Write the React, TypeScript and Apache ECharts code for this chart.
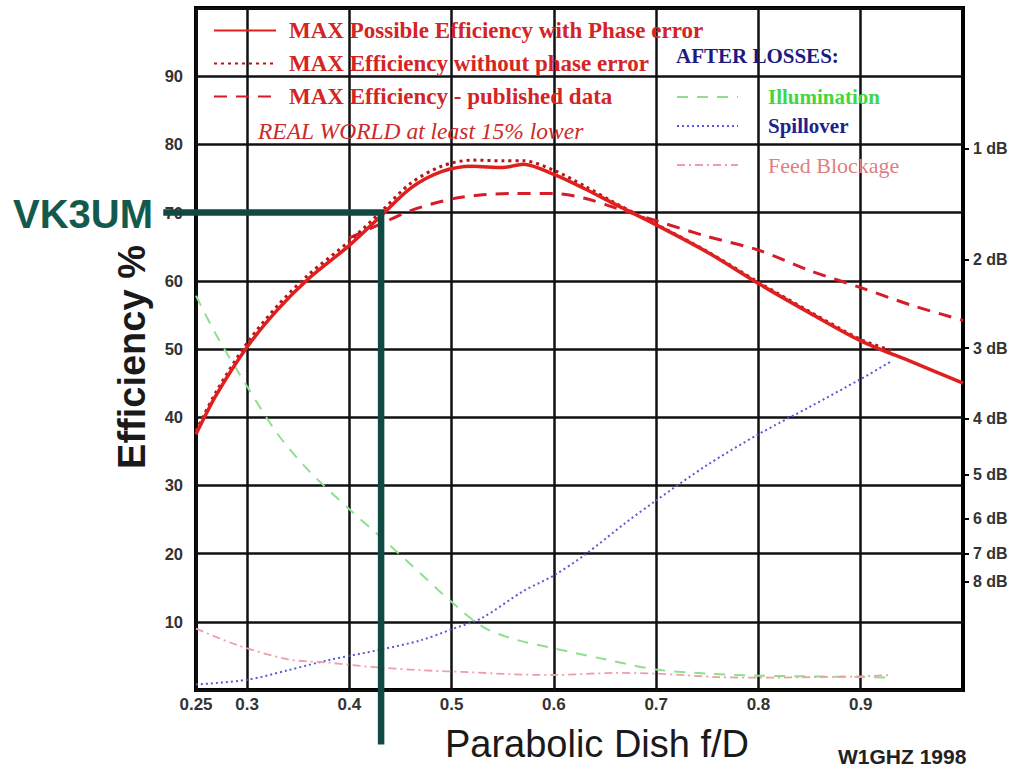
import React, { useEffect, useRef } from "react";
import * as echarts from "echarts";

// f/D values and efficiencies (%)
const fdPhase = [0.25, 0.27, 0.3, 0.33, 0.36, 0.4, 0.43, 0.46, 0.49, 0.52, 0.55, 0.57, 0.6, 0.63, 0.66, 0.7, 0.75, 0.8, 0.85, 0.9, 0.95, 1.0];
const effPhase = [37.5, 43.3, 50.3, 55.8, 60.3, 65.2, 69.4, 73.6, 76.0, 76.8, 76.6, 77.1, 75.6, 73.5, 71.2, 68.2, 64.2, 59.6, 55.3, 51.2, 48.1, 45.0];

const fdNoPhase = [0.25, 0.27, 0.3, 0.33, 0.36, 0.4, 0.43, 0.46, 0.49, 0.52, 0.55, 0.57, 0.6, 0.63, 0.66, 0.7, 0.75, 0.8, 0.85, 0.9, 0.93];
const effNoPhase = [38.0, 43.8, 50.9, 56.4, 60.9, 65.8, 70.0, 74.3, 76.8, 77.7, 77.6, 77.6, 76.2, 73.9, 71.4, 68.3, 64.3, 59.8, 55.5, 51.4, 49.8];

const fdPublished = [0.4, 0.43, 0.46, 0.5, 0.53, 0.56, 0.6, 0.63, 0.66, 0.7, 0.75, 0.8, 0.85, 0.9, 0.95, 1.0];
const effPublished = [66.3, 68.3, 70.3, 72.0, 72.6, 72.8, 72.8, 72.1, 70.7, 68.8, 66.5, 64.5, 61.5, 59.0, 56.4, 54.2];

const fdIllum = [0.25, 0.27, 0.3, 0.33, 0.36, 0.4, 0.43, 0.46, 0.5, 0.53, 0.56, 0.6, 0.65, 0.7, 0.75, 0.8, 0.85, 0.9, 0.93];
const effIllum = [57.8, 52.0, 44.5, 37.5, 32.2, 26.5, 22.5, 18.4, 12.9, 9.3, 7.5, 6.1, 4.5, 3.0, 2.4, 2.1, 2.0, 1.9, 1.8];

const fdSpill = [0.25, 0.3, 0.34, 0.38, 0.43, 0.47, 0.5, 0.53, 0.57, 0.6, 0.63, 0.67, 0.7, 0.75, 0.8, 0.85, 0.9, 0.93];
const effSpill = [0.8, 1.5, 2.9, 4.4, 5.9, 7.3, 8.9, 10.6, 14.5, 16.8, 19.8, 24.5, 27.8, 33.0, 37.5, 41.5, 45.6, 48.2];

const fdBlock = [0.25, 0.29, 0.34, 0.38, 0.42, 0.47, 0.52, 0.56, 0.6, 0.66, 0.7, 0.76, 0.8, 0.86, 0.9, 0.93];
const effBlock = [9.0, 6.6, 4.5, 4.0, 3.4, 2.9, 2.6, 2.3, 2.2, 2.5, 2.4, 1.9, 1.8, 1.9, 2.0, 2.2];

// VK3UM marker: f/D 0.43 -> 70 %
const markFd = [0.218, 0.431, 0.431];
const markEff = [70, 70, -8];

const xTickValues = [0.25, 0.3, 0.4, 0.5, 0.6, 0.7, 0.8, 0.9];
const dbTicks = [1, 2, 3, 4, 5, 6, 7, 8];

const names = [
  "MAX Possible Efficiency with Phase error",
  "MAX Efficiency without phase error",
  "MAX Efficiency - published data",
  "Illumination",
  "Spillover",
  "Feed Blockage",
];

const pairs = (xs: number[], ys: number[]) => xs.map((x, i) => [x, ys[i]]);

export default function App() {
  const ref = useRef<HTMLDivElement>(null);
  useEffect(() => {
    if (!ref.current) return;
    const chart = echarts.init(ref.current, null, { renderer: "svg" });
    const serif = "'Liberation Serif', 'Times New Roman', serif";
    const sans = "'Liberation Sans', Arial, sans-serif";
    const dbPct = dbTicks.map((d) => 100 * Math.pow(10, -d / 10));
    const red = "#d42424";
    const lineBase = { type: "line", symbol: "none", smooth: 0.3, z: 3 };
    chart.setOption({
      animation: false,
      backgroundColor: "#ffffff",
      grid: {
        left: 196, right: 53, top: 8, bottom: 77,
        show: true, borderColor: "#000", borderWidth: 4, backgroundColor: "transparent",
      },
      title: [
        { text: "AFTER LOSSES:", left: 676, top: 45, padding: 0,
          textStyle: { fontFamily: serif, fontWeight: "bold", fontSize: 21, color: "#1c1c80" } },
        { text: "REAL WORLD at least 15% lower", left: 258, top: 119, padding: 0,
          textStyle: { fontFamily: serif, fontStyle: "italic", fontWeight: "normal", fontSize: 23.5, color: "#cc2a2a" } },
        { text: "W1GHZ 1998", left: 838, top: 746, padding: 0,
          textStyle: { fontFamily: sans, fontWeight: "bold", fontSize: 21, color: "#222" } },
        { text: "VK3UM", left: 13, top: 194, padding: 0,
          textStyle: { fontFamily: sans, fontWeight: "bold", fontSize: 40, color: "#14594d" } },
      ],
      legend: [
        {
          orient: "vertical", left: 213, top: 19, padding: 0, itemWidth: 62, itemHeight: 14, itemGap: 10,
          selectedMode: false, itemStyle: { opacity: 0 },
          data: names.slice(0, 3),
          textStyle: { fontFamily: serif, fontWeight: "bold", fontSize: 23, lineHeight: 22, color: red, padding: [0, 0, 0, 8] },
        },
        {
          orient: "vertical", left: 676, top: 86, padding: 0, itemWidth: 61, itemHeight: 14, itemGap: 7,
          selectedMode: false, itemStyle: { opacity: 0 },
          data: [
            { name: names[3], textStyle: { color: "#3fd83f" } },
            { name: names[4], textStyle: { color: "#22228c" } },
          ],
          textStyle: { fontFamily: serif, fontWeight: "bold", fontSize: 21, lineHeight: 22, padding: [0, 0, 0, 25] },
        },
        {
          orient: "vertical", left: 676, top: 154, padding: 0, itemWidth: 61, itemHeight: 14,
          selectedMode: false, itemStyle: { opacity: 0 },
          data: [{ name: names[5], textStyle: { color: "#e08080" } }],
          textStyle: { fontFamily: serif, fontWeight: "normal", fontSize: 22, lineHeight: 22, padding: [0, 0, 0, 25] },
        },
      ],
      xAxis: {
        type: "value", min: 0.25, max: 1.0,
        name: "Parabolic Dish f/D", nameLocation: "middle", nameGap: 35,
        nameTextStyle: { fontFamily: sans, fontSize: 38, color: "#1a1a1a", padding: [0, 0, 0, 35] },
        axisLine: { show: false },
        axisTick: { show: false, customValues: xTickValues },
        axisLabel: {
          customValues: xTickValues, margin: 6, fontFamily: "'Liberation Sans Narrow', 'Liberation Sans', Arial, sans-serif",
          fontWeight: "bold", fontSize: 17, color: "#333",
          formatter: (v: number) => (v === 0.25 ? "0.25" : v.toFixed(1)),
        },
        splitLine: { show: true, lineStyle: { color: "#111", width: 2.5 } },
      },
      yAxis: [
        {
          type: "value", min: 0, max: 100, interval: 10,
          name: "Efficiency %", nameLocation: "middle", nameGap: 45, nameRotate: 90,
          nameTextStyle: { fontFamily: sans, fontWeight: "bold", fontSize: 38, color: "#1a1a1a", padding: [0, 16, 0, 0] },
          axisLine: { show: false }, axisTick: { show: false },
          axisLabel: {
            margin: 13, fontFamily: sans, fontWeight: "bold", fontSize: 16.5, color: "#333",
            formatter: (v: number) => (v === 0 || v === 100 ? "" : String(v)),
          },
          splitLine: { show: true, lineStyle: { color: "#111", width: 2.5 } },
        },
        {
          type: "value", min: 0, max: 100, position: "right",
          axisLine: { show: false },
          axisTick: { show: true, inside: false, length: 6, customValues: dbPct, lineStyle: { color: "#000", width: 2 } },
          axisLabel: {
            customValues: dbPct, margin: 10, fontFamily: sans, fontWeight: "bold", fontSize: 16, color: "#333",
            formatter: (v: number) => Math.round(-10 * Math.log10(v / 100)) + " dB",
          },
          splitLine: { show: false },
        },
      ],
      series: [
        { ...lineBase, name: names[0], data: pairs(fdPhase, effPhase), z: 5,
          lineStyle: { color: "#e01f1f", width: 3.5, type: "solid" }, itemStyle: { color: "#e01f1f" } },
        { ...lineBase, name: names[1], data: pairs(fdNoPhase, effNoPhase), z: 4,
          lineStyle: { color: "#b81414", width: 3, type: [3, 4] }, itemStyle: { color: "#b81414" } },
        { ...lineBase, name: names[2], data: pairs(fdPublished, effPublished),
          lineStyle: { color: "#d41c2a", width: 3, type: [13, 9] }, itemStyle: { color: "#d41c2a" } },
        { ...lineBase, name: names[3], data: pairs(fdIllum, effIllum),
          lineStyle: { color: "#8ee08e", width: 2, type: [11, 9] }, itemStyle: { color: "#8ee08e" } },
        { ...lineBase, name: names[4], data: pairs(fdSpill, effSpill),
          lineStyle: { color: "#5a5ad6", width: 2, type: [2, 3] }, itemStyle: { color: "#5a5ad6" } },
        { ...lineBase, name: names[5], data: pairs(fdBlock, effBlock),
          lineStyle: { color: "#eba0a8", width: 1.8, type: [8, 4, 2, 4] }, itemStyle: { color: "#eba0a8" } },
        {
          type: "custom", name: "VK3UM", clip: false, silent: true, z: 10,
          data: pairs(markFd, markEff),
          encode: { x: 0, y: 1 },
          renderItem: (params: any, api: any) => {
            if (params.dataIndex !== 0) return null;
            const pts = markFd.map((x, i) => api.coord([x, markEff[i]]));
            return {
              type: "polyline",
              shape: { points: pts },
              style: { stroke: "#0e4a42", lineWidth: 6.5, fill: null, lineJoin: "miter", lineCap: "butt" },
            };
          },
        },
      ],
    });
    return () => chart.dispose();
  }, []);
  return <div ref={ref} style={{ position: "fixed", left: 0, top: 0, width: 1016, height: 768, background: "#fff" }} />;
}
